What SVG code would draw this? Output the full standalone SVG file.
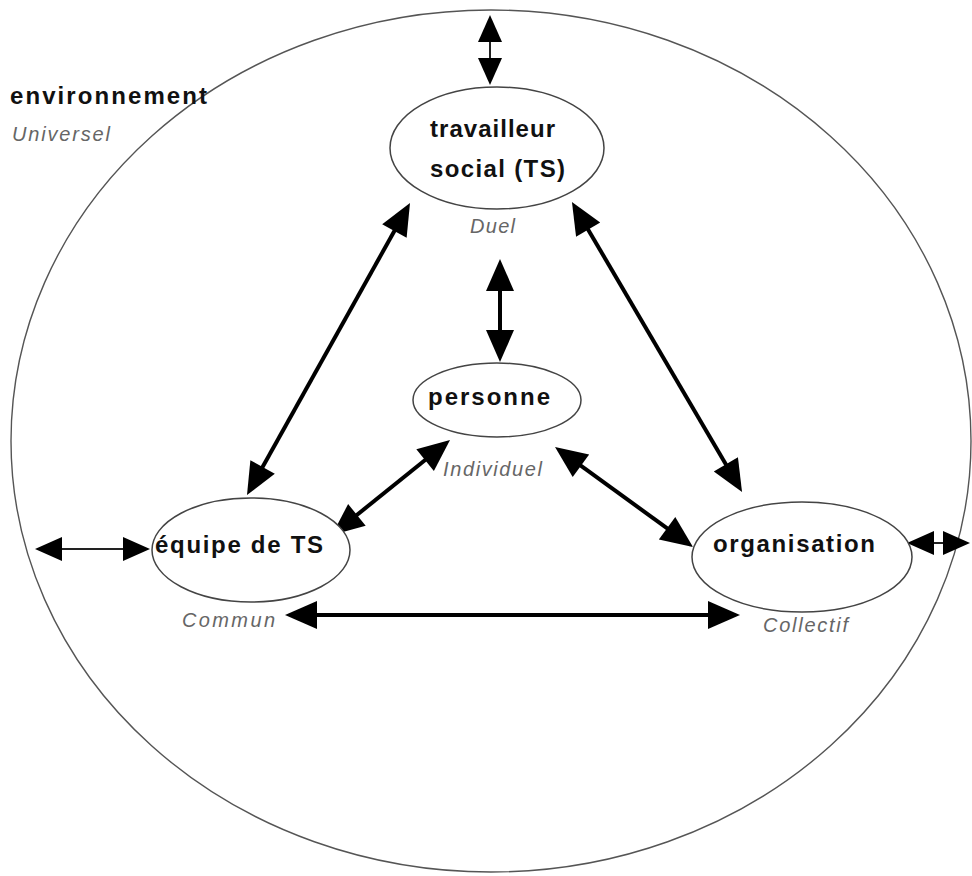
<svg xmlns="http://www.w3.org/2000/svg" width="972" height="876" viewBox="0 0 972 876">
<style>
.node{fill:#fff;stroke:#444;stroke-width:1.5}
.env{fill:#fff;stroke:#555;stroke-width:1.4}
.lbl{font-family:"Liberation Sans",Arial,sans-serif;font-weight:bold;font-size:24px;fill:#111}
.sub{font-family:"Liberation Sans",Arial,sans-serif;font-style:italic;font-size:20px;fill:#666}
.big{stroke:#000;stroke-width:4;fill:none;marker-start:url(#hb);marker-end:url(#hb)}
.thin{stroke:#222;stroke-width:2;fill:none;marker-start:url(#hs);marker-end:url(#hs)}
</style>
<defs>
<marker id="hb" markerUnits="userSpaceOnUse" markerWidth="32" markerHeight="28" refX="24" refY="14" orient="auto-start-reverse" overflow="visible">
<path d="M0,0 L32,14 L0,28 Z" fill="#000"/>
</marker>
<marker id="hs" markerUnits="userSpaceOnUse" markerWidth="27" markerHeight="24" refX="21" refY="12" orient="auto-start-reverse" overflow="visible">
<path d="M0,0 L27,12 L0,24 Z" fill="#000"/>
</marker>
</defs>
<rect width="972" height="876" fill="#fff"/>
<g id="environnement">
<ellipse class="env" cx="491" cy="441" rx="480" ry="431"/>
<text class="lbl" x="10" y="104" textLength="197" lengthAdjust="spacing">environnement</text>
<text class="sub" x="12" y="141" textLength="98" lengthAdjust="spacing">Universel</text>
</g>
<g id="connectors">
<path class="thin" d="M490,21 L490,79"/>
<path class="thin" d="M41,549 L144,549"/>
<path class="thin" d="M913,543 L964,543"/>
<path class="big" d="M500,267 L500,354"/>
<path class="big" d="M406.1,210 L250.9,488"/>
<path class="big" d="M576,208.9 L738,485.1"/>
<path class="big" d="M443.8,445 L338.2,530"/>
<path class="big" d="M561.5,451.7 L686.5,542.3"/>
<path class="big" d="M293,615 L732,615"/>
</g>
<g id="travailleur">
<ellipse class="node" cx="497" cy="148" rx="107" ry="61"/>
<text class="lbl" x="430" y="137" textLength="125" lengthAdjust="spacing">travailleur</text>
<text class="lbl" x="430" y="177" textLength="135" lengthAdjust="spacing">social (TS)</text>
<text class="sub" x="470" y="233" textLength="45" lengthAdjust="spacing">Duel</text>
</g>
<g id="personne">
<ellipse class="node" cx="497" cy="400" rx="84" ry="37"/>
<text class="lbl" x="428" y="405" textLength="122" lengthAdjust="spacing">personne</text>
<text class="sub" x="443" y="476" textLength="99" lengthAdjust="spacing">Individuel</text>
</g>
<g id="equipe">
<ellipse class="node" cx="251" cy="550" rx="99" ry="52"/>
<text class="lbl" x="155" y="553" textLength="168" lengthAdjust="spacing">équipe de TS</text>
<text class="sub" x="182" y="627" textLength="93" lengthAdjust="spacing">Commun</text>
</g>
<g id="organisation">
<ellipse class="node" cx="802" cy="557" rx="110" ry="55"/>
<text class="lbl" x="713" y="552" textLength="162" lengthAdjust="spacing">organisation</text>
<text class="sub" x="763" y="632" textLength="85" lengthAdjust="spacing">Collectif</text>
</g>
</svg>
